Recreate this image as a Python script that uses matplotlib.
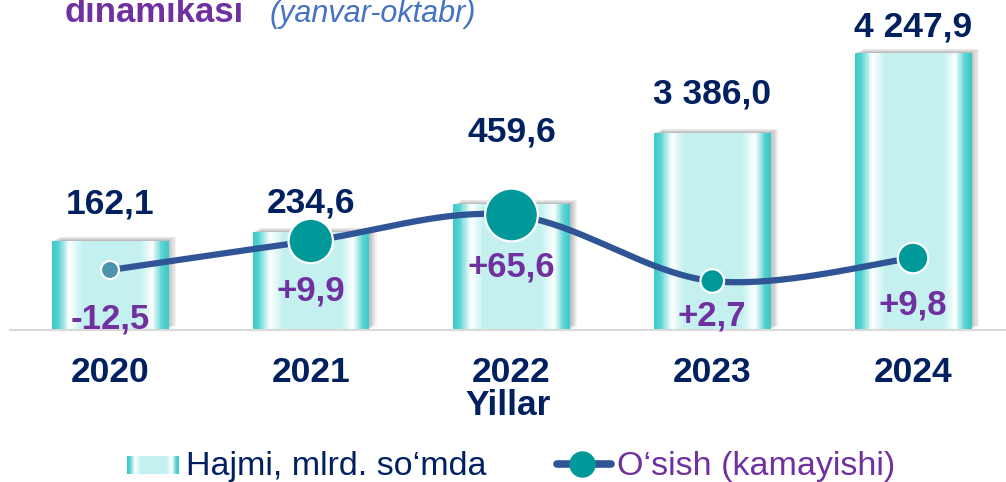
import numpy as np
import matplotlib
matplotlib.use('Agg')
import matplotlib.pyplot as plt
from matplotlib.colors import LinearSegmentedColormap
from matplotlib.transforms import ScaledTranslation
from matplotlib.lines import Line2D

plt.rcParams['font.family'] = ['Liberation Sans', 'DejaVu Sans']

# data
years = ['2020', '2021', '2022', '2023', '2024']
hajmi = [162.1, 234.6, 459.6, 3386.0, 4247.9]          # mlrd. so'm
osish = [-12.5, 9.9, 65.6, 2.7, 9.8]                    # %
osish_level = [60, 89, 115, 49, 72]   # marker height as drawn in the picture (arbitrary units)

NAVY = '#002060'
PURPLE = '#7030A0'
LINE = '#2F5597'
TEAL = '#009999'

W, H = 1006, 482
fig = plt.figure(figsize=(W / 100, H / 100), dpi=100)
base_px = 330
ax = fig.add_axes([10 / W, (H - base_px) / H, (W - 10) / W, base_px / H])

# the bars in the original are not to scale -> piecewise scale
knot_v = np.array([0.0] + hajmi + [6000.0])
knot_h = np.array([0, 89, 98, 126, 197, 277, 440])


def fwd(v):
    return np.interp(v, knot_v, knot_h)


def inv(h):
    return np.interp(h, knot_h, knot_v)


ax.set_yscale('function', functions=(fwd, inv))
ax.set_ylim(0, inv(base_px))
step = 200.75
ax.set_xlim(-100 / step, (W - 10 - 100) / step)

x = np.arange(len(years))
bw = 116 / step
cmap = LinearSegmentedColormap.from_list('cyl', [
    (0.0, '#3cc8c8'), (0.05, '#55d2d2'), (0.15, '#ffffff'), (0.26, '#c4f0f0'),
    (0.76, '#c4f0f0'), (0.87, '#ffffff'), (0.95, '#5ad3d3'), (1.0, '#3cc8c8')])
n = 60
for xi, v in zip(x, hajmi):
    for k in range(1, 8):
        sh = ax.bar(xi, v, width=bw, color='#606060', alpha=0.07, linewidth=0, zorder=1)[0]
        sh.set_transform(ax.transData + ScaledTranslation(k * 0.8 / 72, k * 0.45 / 72, fig.dpi_scale_trans))
    edges = np.linspace(xi - bw / 2, xi + bw / 2, n + 1)[:-1]
    ax.bar(edges, [v] * n, width=bw / n * 1.3, align='edge',
           color=cmap((np.arange(n) + 0.5) / n), linewidth=0, zorder=2)

val_dy = [20, 14, 45, 21, 12]   # points
for xi, v, dy in zip(x, hajmi, val_dy):
    txt = f'{v:,.1f}'.replace(',', ' ').replace('.', ',')
    ax.annotate(txt, xy=(xi, v), xytext=(0, dy), textcoords='offset points',
                ha='center', va='baseline', fontsize=25.5, fontweight='bold', color=NAVY)

for s in ['top', 'right', 'left']:
    ax.spines[s].set_visible(False)
ax.spines['bottom'].set_color('#d9d9d9')
ax.spines['bottom'].set_linewidth(1.5)
ax.set_yticks([])
ax.set_xticks(x)
ax.set_xticklabels(years, fontsize=25.5, fontweight='bold', color=NAVY)
ax.tick_params(axis='x', length=0, pad=19)
ax.set_xlabel('Yillar', fontsize=25.5, fontweight='bold', color=NAVY, labelpad=0)

# growth line
ax2 = ax.twinx()
ax2.set_ylim(0, base_px)
ax2.axis('off')


def smooth(xs, ys, steps=40):
    P = np.column_stack([xs, ys]).astype(float)
    P = np.vstack([P[0], P, P[-1]])
    out = []
    t = np.linspace(0, 1, steps)[:, None]
    for i in range(1, len(P) - 2):
        p0, p1, p2, p3 = P[i - 1:i + 3]
        seg = 0.5 * (2 * p1 + (-p0 + p2) * t + (2 * p0 - 5 * p1 + 4 * p2 - p3) * t ** 2
                     + (-p0 + 3 * p1 - 3 * p2 + p3) * t ** 3)
        out.append(seg)
    return np.vstack(out)


curve = smooth(x, osish_level)
ax2.plot(curve[:, 0], curve[:, 1], color=LINE, lw=4.5, solid_capstyle='round', zorder=3)
msize = [13, 32, 38, 17, 22]
mcol = ['#4b94ae', TEAL, TEAL, TEAL, TEAL]
ax2.scatter(x, osish_level, s=np.array(msize) ** 2, c=mcol, edgecolors='white',
            linewidths=1.6, zorder=4)

g_dy = [-42, -42.5, -44.5, -32, -41]
for xi, lv, g, dy in zip(x, osish_level, osish, g_dy):
    txt = f'{g:+.1f}'.replace('.', ',')
    if g < 0:
        txt = txt.replace('+', '')
    ax2.annotate(txt, xy=(xi, lv), xytext=(0, dy), textcoords='offset points',
                 ha='center', va='baseline', fontsize=25, fontweight='bold', color=PURPLE, zorder=5)

# title (cut at top in the original)
fig.text(65 / W, (H - 22) / H, 'dinamikasi', fontsize=25, fontweight='bold',
         color=PURPLE, va='baseline', ha='left')
fig.text(270 / W, (H - 22) / H, '(yanvar-oktabr)', fontsize=22, style='italic',
         color='#4472C4', va='baseline', ha='left')

# legend
lax = fig.add_axes([127 / W, (H - 474) / H, 52 / W, 18 / H])
lax.imshow(cmap(np.linspace(0, 1, 80))[None, :, :], aspect='auto')
lax.axis('off')
fig.text(186 / W, (H - 475) / H, 'Hajmi, mlrd. so‘mda', fontsize=24.5, color=NAVY,
         va='baseline', ha='left')
fig.add_artist(Line2D([557 / W, 611 / W], [(H - 464) / H] * 2, transform=fig.transFigure,
                      color=LINE, lw=5.5, solid_capstyle='round'))
fig.add_artist(Line2D([582 / W], [(H - 464) / H], transform=fig.transFigure, marker='o',
                      markersize=18, markerfacecolor=TEAL, markeredgecolor=TEAL, lw=0))
fig.text(617 / W, (H - 475) / H, 'O‘sish (kamayishi)', fontsize=24.5, color=PURPLE,
         va='baseline', ha='left')

fig.savefig('out.png', dpi=100)
